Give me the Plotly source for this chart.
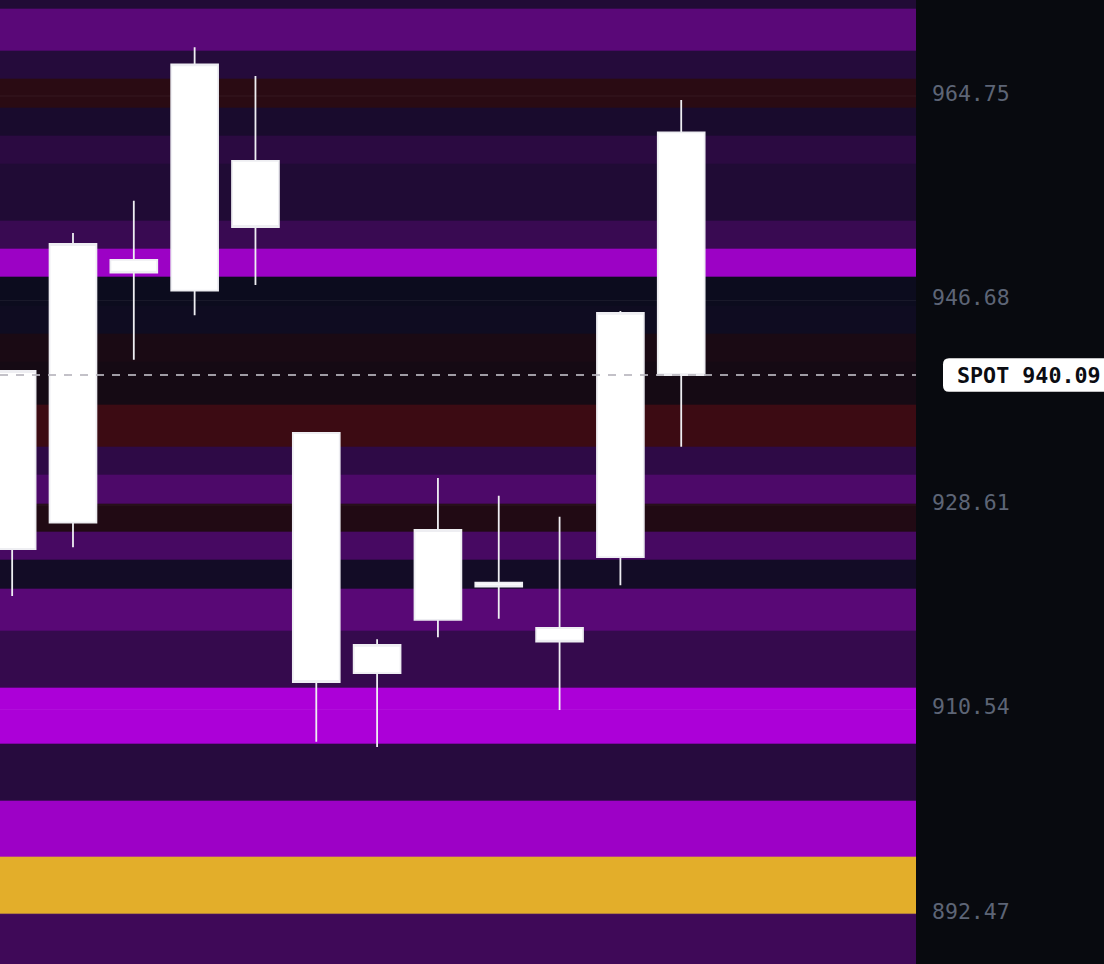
import plotly.graph_objects as go

# ---------------- data ----------------
CANDLE_X = list(range(12))
OPEN  = [924.72, 927.05, 950.26, 947.55, 959.01, 934.97, 913.76, 918.45, 921.74, 917.74, 924.01, 961.54]
HIGH  = [940.50, 952.64, 955.50, 969.05, 966.52, 935.05, 916.74, 931.00, 929.43, 927.58, 945.75, 964.40]
LOW   = [920.57, 924.87, 941.45, 945.37, 948.05, 907.69, 907.23, 916.92, 918.56, 910.50, 921.51, 933.76]
CLOSE = [940.45, 951.67, 949.14, 967.55, 953.17, 912.97, 916.24, 926.40, 921.39, 916.53, 945.58, 940.09]

STRIKES = [890, 895, 900, 905, 910, 915, 920, 922.5, 925, 927.5, 930, 932.5, 935,
           940, 942.5, 945, 947.5, 950, 952.5, 955, 957.5, 960, 962.5, 965, 967.5, 970, 975]
EXPOSURE = [0.39, 1.0, 0.845, 0.21, 0.9, 0.315, 0.59, 0.055, 0.455, -0.17, 0.5, 0.265, -0.46,
            -0.03, -0.09, 0.02, 0.0, 0.84, 0.35, 0.156, 0.156, 0.235, 0.10, -0.26, 0.195, 0.6, 0.16]

SPOT = 940.09
TICKS = [964.75, 946.68, 928.61, 910.54, 892.47]
Y_RANGE = [888.05, 973.23]
X_RANGE = [-0.2, 14.86]

# ---------------- styling ----------------
W, H = 1104, 964
MARGIN_R = 188
PLOT_W = W - MARGIN_R
BG = "#080a0f"
MONO = "DejaVu Sans Mono"

COLORSCALE = [
    [0.0, "#6e0c12"],
    [0.499, "#120a14"],
    [0.5, "#0c0c1e"],
    [0.8, "#5a0878"],
    [0.95, "#ac00d8"],
    [0.951, "#b000dc"],
    [1.0, "#e3ae2a"],
]

fig = go.Figure()

# strike bands (heatmap, one column spanning the x range)
fig.add_trace(go.Heatmap(
    x=X_RANGE,
    y=STRIKES,
    z=[[v] for v in EXPOSURE],
    colorscale=COLORSCALE,
    zmin=-1, zmax=1,
    showscale=False,
    hoverinfo="skip",
))

# faint grid lines at tick values (above bands, below candles)
gx, gy = [], []
for t in TICKS:
    gx += [X_RANGE[0], X_RANGE[1], None]
    gy += [t, t, None]
fig.add_trace(go.Scatter(
    x=gx, y=gy, mode="lines",
    line=dict(color="rgba(255,255,255,0.06)", width=1),
    hoverinfo="skip", showlegend=False,
))

# spot line
fig.add_trace(go.Scatter(
    x=X_RANGE, y=[SPOT, SPOT], mode="lines",
    line=dict(color="rgba(185,182,190,0.85)", width=2, dash="8px,8px"),
    hoverinfo="skip", showlegend=False,
))

# candles
fig.add_trace(go.Candlestick(
    x=CANDLE_X, open=OPEN, high=HIGH, low=LOW, close=CLOSE,
    increasing=dict(fillcolor="#ffffff", line=dict(color="#eeeef2", width=1.8)),
    decreasing=dict(fillcolor="#ffffff", line=dict(color="#eeeef2", width=1.8)),
    whiskerwidth=0,
    showlegend=False,
))

# SPOT label: rounded box in paper coordinates
yc = (SPOT - Y_RANGE[0]) / (Y_RANGE[1] - Y_RANGE[0])
bx0, bx1 = 943 / PLOT_W, 1150 / PLOT_W
hh = 16.7 / H
by0, by1 = yc - hh, yc + hh
rx, ry = 6 / PLOT_W, 6 / H
path = (f"M {bx0+rx},{by1} L {bx1},{by1} L {bx1},{by0} L {bx0+rx},{by0} "
        f"Q {bx0},{by0} {bx0},{by0+ry} L {bx0},{by1-ry} Q {bx0},{by1} {bx0+rx},{by1} Z")
fig.add_shape(type="path", path=path, xref="paper", yref="paper",
              fillcolor="#ffffff", line=dict(width=0), layer="above")

fig.add_annotation(
    x=955 / PLOT_W, xref="paper", xanchor="left",
    y=SPOT, yref="y", yanchor="middle",
    text=f"SPOT {SPOT:.2f}", showarrow=False,
    font=dict(family=MONO, size=21.7, color="#0b0c12", weight="bold"),
)

fig.update_layout(
    width=W, height=H,
    margin=dict(l=0, r=MARGIN_R, t=0, b=0),
    paper_bgcolor=BG, plot_bgcolor=BG,
    showlegend=False,
    boxgap=0.23, boxgroupgap=0,
    xaxis=dict(visible=False, range=X_RANGE, rangeslider=dict(visible=False), fixedrange=True),
    yaxis=dict(
        side="right", range=Y_RANGE,
        tickvals=TICKS, ticktext=[f"{t:.2f}" for t in TICKS],
        showgrid=False, zeroline=False, showline=False, ticks="",
        ticklabelstandoff=15, ticklabelshift=-3,
        tickfont=dict(family=MONO, size=21.5, color="#5d6576"),
        fixedrange=True,
    ),
)

fig.write_html(
    "out.html",
    config={"displayModeBar": False},
    post_script="document.body.style.margin='0';document.body.style.background='#080a0f';",
)
